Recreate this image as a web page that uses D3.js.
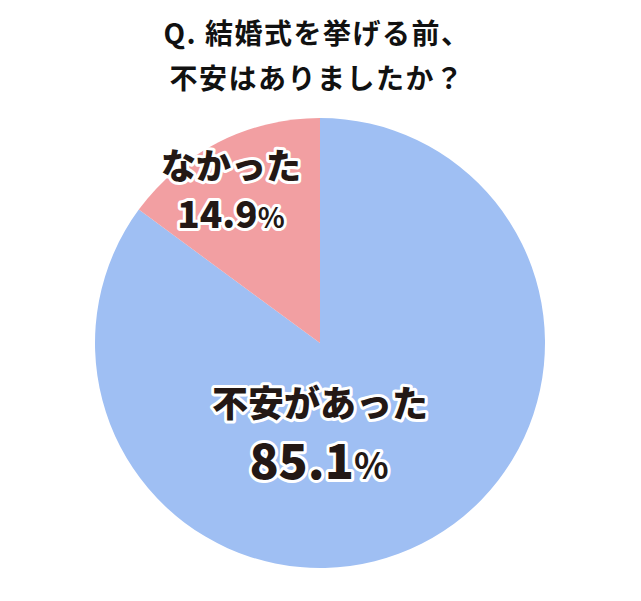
<!DOCTYPE html>
<html><head><meta charset="utf-8">
<script src="https://cdn.jsdelivr.net/npm/d3@7"></script>
<style>body{margin:0;background:#fff}svg{display:block}</style>
</head><body>
<svg id="c" width="641" height="601"></svg>
<script>
const titleLines = ["Q. 結婚式を挙げる前、", "不安はありましたか？"];
const categories = ["不安があった", "なかった"];
const values = [85.1, 14.9];
const valueLabels = ["85.1", "14.9"];
const colors = ["#9fbff3", "#f29fa2"];

const svg = d3.select("#c");
const cx = 320, cy = 343, r = 225;
const font = "'Noto Sans CJK JP', 'Noto Sans', sans-serif";

svg.selectAll("text.title").data(titleLines).enter().append("text")
  .attr("x", 317).attr("y", (d, i) => 44 + i * 45)
  .attr("text-anchor", "middle")
  .attr("font-family", font).attr("font-weight", 700)
  .attr("font-size", 28).attr("letter-spacing", 1.5)
  .attr("fill", "#111").text(d => d);

const pie = d3.pie().sort(null).value(d => d)(values);
const arc = d3.arc().innerRadius(0).outerRadius(r);
const g = svg.append("g").attr("transform", `translate(${cx},${cy})`);
g.selectAll("path").data(pie).enter().append("path")
  .attr("d", arc).attr("fill", (d, i) => colors[i]);

const labelPos = [
  {name: [0, 74], val: [-1, 136], nameSize: 36, valSize: 48, pctSize: 36},
  {name: [-89, -164], val: [-89, -115], nameSize: 35, valSize: 37, pctSize: 28}
];

function outlined(sel) {
  return sel.attr("stroke", "#fff").attr("stroke-width", 6)
    .attr("stroke-linejoin", "round").attr("paint-order", "stroke")
    .attr("fill", "#231815");
}

categories.forEach((c, i) => {
  const p = labelPos[i];
  outlined(g.append("text")
    .attr("x", p.name[0]).attr("y", p.name[1])
    .attr("text-anchor", "middle")
    .attr("font-family", font).attr("font-weight", 900)
    .attr("font-size", p.nameSize).text(c));
  const t = outlined(g.append("text")
    .attr("x", p.val[0]).attr("y", p.val[1])
    .attr("text-anchor", "middle")
    .attr("font-family", font).attr("font-weight", 900));
  t.append("tspan").attr("font-size", p.valSize).text(valueLabels[i]);
  t.append("tspan").attr("font-size", p.pctSize).attr("font-weight", 700).text("%");
});
</script>
</body></html>
